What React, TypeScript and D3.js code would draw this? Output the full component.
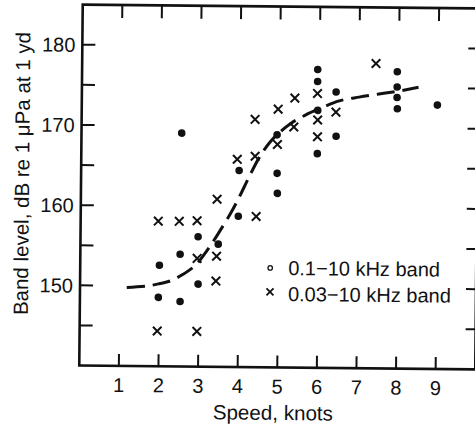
import React from 'react';
import * as d3 from 'd3';

// 0.1–10 kHz band (filled dots)
const dotSpeed = [2.53, 3.99, 3.98, 4.95, 4.96, 4.94, 5.95, 5.95, 5.96, 5.96, 6.42, 6.43, 7.96, 7.96, 7.96, 7.97, 8.98, 2.97, 3.48, 2.52, 2.0, 2.98, 1.98, 2.53];
const dotLevel = [169.1, 164.5, 158.8, 164.2, 161.7, 169.0, 177.2, 175.7, 172.1, 166.7, 174.4, 168.9, 177.0, 175.1, 173.8, 172.4, 172.9, 156.2, 155.3, 154.0, 152.6, 150.3, 148.6, 148.1];

// 0.03–10 kHz band (crosses)
const crossSpeed = [3.44, 1.96, 2.49, 2.94, 2.95, 3.44, 3.43, 1.96, 2.96, 3.94, 4.39, 4.43, 4.38, 4.96, 5.38, 4.95, 5.36, 5.95, 5.96, 5.96, 6.42, 7.42];
const crossLevel = [160.9, 158.1, 158.1, 158.2, 153.5, 153.8, 150.7, 144.4, 144.4, 165.9, 166.3, 158.8, 170.9, 172.2, 173.6, 167.8, 170.0, 174.2, 170.9, 168.8, 171.9, 178.0];

// dashed fitted curve
const fitSpeed = [1.18, 1.7, 2.0, 2.3, 2.6, 2.9, 3.2, 3.5, 3.8, 4.0, 4.25, 4.5, 4.75, 5.0, 5.3, 5.65, 6.0, 6.5, 7.0, 7.5, 8.0, 8.5];
const fitLevel = [149.8, 150.0, 150.3, 150.7, 151.5, 152.6, 154.5, 156.8, 159.3, 161.2, 163.8, 166.2, 168.0, 169.3, 170.5, 171.5, 172.3, 173.3, 173.8, 174.2, 174.6, 175.1];

const xTicks = [1, 2, 3, 4, 5, 6, 7, 8, 9];
const yTicks = [145, 150, 155, 160, 165, 170, 175, 180];
const yTickLabels = [150, 160, 170, 180];
const legendLabels = ['0.1\u221210 kHz band', '0.03\u221210 kHz band'];
const xTitle = 'Speed, knots';
const yTitle = 'Band level, dB re 1 \u03bcPa at 1 yd';

export default function App() {
  const W = 475, H = 430;
  const x = d3.scaleLinear().domain([0, 10]).range([81, 477]);
  const y = d3.scaleLinear().domain([140, 185]).range([367.5, 6.5]);
  const [x0, x1] = x.range();
  const [yb, yt] = y.range();
  const font = '"Liberation Sans", Arial, sans-serif';
  const fitPts: [number, number][] = fitSpeed.map((s, i) => [s, fitLevel[i]]);
  const line = d3.line<[number, number]>()
    .x(d => x(d[0]))
    .y(d => y(d[1]))
    .curve(d3.curveCatmullRom);
  const cs = 4.3;
  return (
    <svg width={W} height={H} style={{ position: 'absolute', left: 0, top: 0, background: '#fff' }}>
      <rect x={0} y={0} width={W} height={H} fill="#fff" />
      <g transform="rotate(0.55 280 186)" fontFamily={font} fill="#111">
        {/* frame */}
        <rect x={x0} y={yt} width={x1 - x0} height={yb - yt} fill="none" stroke="#111" strokeWidth={2.6} />
        {/* ticks */}
        {xTicks.map(t => (
          <g key={'xt' + t}>
            <line x1={x(t)} x2={x(t)} y1={yb} y2={yb - 12} stroke="#111" strokeWidth={2} />
            <line x1={x(t)} x2={x(t)} y1={yt} y2={yt + 13} stroke="#111" strokeWidth={2} />
            <text x={x(t)} y={yb + 26} textAnchor="middle" fontSize={20}>{t}</text>
          </g>
        ))}
        {yTicks.map(t => (
          <g key={'yt' + t}>
            <line x1={x0} x2={x0 + 13} y1={y(t)} y2={y(t)} stroke="#111" strokeWidth={2} />
            <line x1={x1} x2={x1 - 10} y1={y(t)} y2={y(t)} stroke="#111" strokeWidth={2} />
          </g>
        ))}
        {yTickLabels.map(t => (
          <text key={'yl' + t} x={x0 - 7} y={y(t)} dy="0.36em" textAnchor="end" fontSize={20}>{t}</text>
        ))}
        {/* fitted dashed curve */}
        <path d={line(fitPts) || ''} fill="none" stroke="#111" strokeWidth={3} strokeDasharray="18 8" />
        {/* dots */}
        {dotSpeed.map((s, i) => (
          <circle key={'d' + i} cx={x(s)} cy={y(dotLevel[i])} r={3.8} fill="#111" />
        ))}
        {/* crosses */}
        {crossSpeed.map((s, i) => {
          const cx = x(s), cy = y(crossLevel[i]);
          return (
            <path key={'c' + i}
              d={`M${cx - cs},${cy - cs}L${cx + cs},${cy + cs}M${cx - cs},${cy + cs}L${cx + cs},${cy - cs}`}
              stroke="#111" strokeWidth={2} fill="none" />
          );
        })}
        {/* legend */}
        <circle cx={271} cy={268} r={2.2} fill="none" stroke="#111" strokeWidth={1.3} />
        <text x={289} y={275} fontSize={20}>{legendLabels[0]}</text>
        <path d="M267.5,288.5L274.5,295.5M267.5,295.5L274.5,288.5" stroke="#111" strokeWidth={1.8} />
        <text x={289} y={301} fontSize={20}>{legendLabels[1]}</text>
        {/* axis titles */}
        <text x={275} y={420} textAnchor="middle" fontSize={20.6}>{xTitle}</text>
        <text transform="translate(29,176) rotate(-90)" textAnchor="middle" fontSize={20.5}>{yTitle}</text>
      </g>
    </svg>
  );
}
